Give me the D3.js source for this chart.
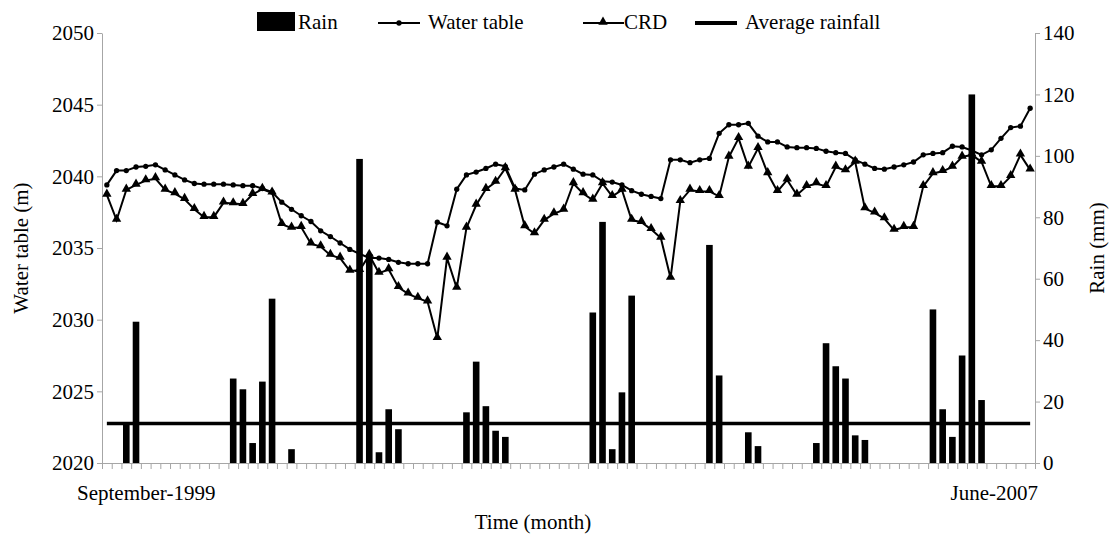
<!DOCTYPE html>
<html>
<head>
<meta charset="utf-8">
<script src="https://cdn.jsdelivr.net/npm/d3@7"></script>
<style>
  body { margin: 0; background: #fff; }
  svg { display: block; font-family: "Liberation Serif", "Times New Roman", serif; }
  .axis path, .axis line { stroke: #a6a6a6; }
  .axis text { fill: #000; font-size: 21px; font-family: "Liberation Serif", "Times New Roman", serif; }
</style>
</head>
<body>
<div id="chart"></div>
<script>
// months counted from September-1999
var months = d3.range(1, 97);
var endLabels = ["September-1999", "June-2007"];
var leftTicks = [2020, 2025, 2030, 2035, 2040, 2045, 2050];
var rightTicks = [0, 20, 40, 60, 80, 100, 120, 140];

var waterTable = [
  2039.4, 2040.4, 2040.4, 2040.65, 2040.7, 2040.8, 2040.45, 2040.1, 2039.75, 2039.5,
  2039.45, 2039.45, 2039.45, 2039.4, 2039.35, 2039.35, 2039.15, 2038.9, 2038.2, 2037.7,
  2037.25, 2036.85, 2036.2, 2035.8, 2035.35, 2034.9, 2034.6, 2034.3, 2034.3, 2034.2,
  2034.0, 2033.9, 2033.9, 2033.9, 2036.8, 2036.55, 2039.1, 2040.1, 2040.3, 2040.55,
  2040.85, 2040.7, 2039.15, 2039.05, 2040.15, 2040.45, 2040.65, 2040.85, 2040.5, 2040.15,
  2040.1, 2039.65, 2039.6, 2039.4, 2039.0, 2038.75, 2038.6, 2038.45, 2041.15, 2041.15,
  2040.95, 2041.15, 2041.25, 2043.0, 2043.6, 2043.6, 2043.7, 2042.8, 2042.4, 2042.4,
  2042.05, 2042.0, 2042.0, 2041.95, 2041.75, 2041.65, 2041.6, 2041.15, 2040.85, 2040.55,
  2040.5, 2040.65, 2040.8, 2041.0, 2041.5, 2041.6, 2041.65, 2042.1, 2042.05, 2041.8,
  2041.5, 2041.85, 2042.65, 2043.4, 2043.5, 2044.75
];

var crd = [
  2038.7, 2036.95, 2039.05, 2039.4, 2039.7, 2039.85, 2039.05, 2038.8, 2038.4, 2037.7,
  2037.15, 2037.15, 2038.15, 2038.1, 2038.05, 2038.75, 2039.1, 2038.85, 2036.65, 2036.4,
  2036.45, 2035.3, 2035.1, 2034.5, 2034.3, 2033.4, 2033.45, 2034.5, 2033.25, 2033.5,
  2032.25, 2031.8, 2031.5, 2031.25, 2028.7, 2034.3, 2032.2, 2036.4, 2038.0, 2039.1,
  2039.6, 2040.55, 2039.05, 2036.5, 2036.0, 2036.95, 2037.4, 2037.65, 2039.5, 2038.8,
  2038.35, 2039.5, 2038.6, 2039.05, 2036.95, 2036.8, 2036.3, 2035.7, 2032.9, 2038.25,
  2039.05, 2038.95, 2038.95, 2038.6, 2041.35, 2042.65, 2040.65, 2041.95, 2040.2, 2038.95,
  2039.75, 2038.7, 2039.3, 2039.5, 2039.3, 2040.65, 2040.4, 2041.0, 2037.75, 2037.45,
  2037.05, 2036.25, 2036.45, 2036.45, 2039.3, 2040.2, 2040.35, 2040.65, 2041.35, 2041.5,
  2041.0, 2039.3, 2039.3, 2040.0, 2041.5, 2040.45
];

var rain = [
  0, 0, 12.5, 46, 0, 0, 0, 0, 0, 0,
  0, 0, 0, 27.5, 24, 6.5, 26.5, 53.5, 0, 4.5,
  0, 0, 0, 0, 0, 0, 99, 68, 3.5, 17.5,
  11, 0, 0, 0, 0, 0, 0, 16.5, 33, 18.5,
  10.5, 8.5, 0, 0, 0, 0, 0, 0, 0, 0,
  49, 78.5, 4.5, 23, 54.5, 0, 0, 0, 0, 0,
  0, 0, 71, 28.5, 0, 0, 10, 5.5, 0, 0,
  0, 0, 0, 6.5, 39, 31.5, 27.5, 9, 7.5, 0,
  0, 0, 0, 0, 0, 50, 17.5, 8.5, 35, 120,
  20.5, 0, 0, 0, 0, 0
];

var averageRainfall = 12.9;

var margin = { top: 33, right: 77, bottom: 72, left: 102 };
var width = 1112;
var height = 535;
var innerWidth = width - margin.left - margin.right;
var innerHeight = height - margin.top - margin.bottom;

var svg = d3.select("#chart").append("svg")
  .attr("width", width)
  .attr("height", height);

var g = svg.append("g")
  .attr("transform", "translate(" + margin.left + "," + margin.top + ")");

var xBar = d3.scaleBand().domain(months).range([0, innerWidth]).paddingInner(0.32).paddingOuter(0.16);
var xCenter = d3.scaleBand().domain(months).range([0, innerWidth]);
var xEdges = d3.scaleLinear().domain([0, months.length]).range([0, innerWidth]);
var yLeft = d3.scaleLinear().domain([2020, 2050]).range([innerHeight, 0]);
var yRight = d3.scaleLinear().domain([0, 140]).range([innerHeight, 0]);

// x position of a point (centre of its month)
function X(d, i) {
  return xCenter(months[i]) + xCenter.bandwidth() / 2;
}

// axes
var xAxis = g.append("g").attr("class", "x axis")
  .attr("transform", "translate(0," + innerHeight + ")")
  .call(d3.axisBottom(xEdges).tickValues(d3.range(months.length + 1)).tickFormat("").tickSize(6).tickSizeOuter(0));
xAxis.selectAll("text").remove();

g.append("g").attr("class", "y axis")
  .call(d3.axisLeft(yLeft).tickValues(leftTicks).tickFormat(d3.format("d")).tickSize(5).tickSizeOuter(0).tickPadding(3));

g.append("g").attr("class", "y2 axis")
  .attr("transform", "translate(" + innerWidth + ",0)")
  .call(d3.axisRight(yRight).tickValues(rightTicks).tickSize(5).tickSizeOuter(0).tickPadding(3));

// rain bars
var rainData = rain.map(function(v, i) { return { month: months[i], value: v }; })
  .filter(function(d) { return d.value > 0; });

g.selectAll(".bar")
  .data(rainData)
  .enter().append("rect")
  .attr("class", "bar")
  .attr("x", function(d) { return xBar(d.month); })
  .attr("y", function(d) { return yRight(d.value); })
  .attr("width", xBar.bandwidth())
  .attr("height", function(d) { return innerHeight - yRight(d.value); })
  .attr("fill", "#000");

// average rainfall
g.append("line")
  .attr("x1", X(null, 0))
  .attr("x2", X(null, months.length - 1))
  .attr("y1", yRight(averageRainfall))
  .attr("y2", yRight(averageRainfall))
  .attr("stroke", "#000")
  .attr("stroke-width", 3.5);

var lineLeft = d3.line()
  .x(function(d, i) { return X(d, i); })
  .y(function(d) { return yLeft(d); });

g.append("path").datum(waterTable)
  .attr("d", lineLeft).attr("fill", "none").attr("stroke", "#000").attr("stroke-width", 2);

g.append("path").datum(crd)
  .attr("d", lineLeft).attr("fill", "none").attr("stroke", "#000").attr("stroke-width", 2);

var circle = d3.symbol().type(d3.symbolCircle).size(22);
var tri = d3.symbol().type(d3.symbolTriangle).size(38);

g.selectAll(".wt").data(waterTable).enter().append("path")
  .attr("class", "wt")
  .attr("d", circle)
  .attr("transform", function(d, i) { return "translate(" + X(d, i) + "," + yLeft(d) + ")"; })
  .attr("fill", "#000");

g.selectAll(".crd").data(crd).enter().append("path")
  .attr("class", "crd")
  .attr("d", tri)
  .attr("transform", function(d, i) { return "translate(" + X(d, i) + "," + (yLeft(d) - 1) + ")"; })
  .attr("fill", "#000");

// axis labels
svg.append("text")
  .attr("x", 77).attr("y", 500)
  .attr("font-size", 21)
  .text(endLabels[0]);

svg.append("text")
  .attr("x", margin.left + innerWidth + 3).attr("y", 500)
  .attr("text-anchor", "end")
  .attr("font-size", 21)
  .text(endLabels[1]);

svg.append("text")
  .attr("x", 533).attr("y", 529)
  .attr("text-anchor", "middle")
  .attr("font-size", 21)
  .text("Time (month)");

svg.append("text")
  .attr("transform", "translate(28," + (margin.top + innerHeight / 2) + ") rotate(-90)")
  .attr("text-anchor", "middle")
  .attr("font-size", 21)
  .text("Water table (m)");

svg.append("text")
  .attr("transform", "translate(1104," + (margin.top + innerHeight / 2) + ") rotate(-90)")
  .attr("text-anchor", "middle")
  .attr("font-size", 21)
  .text("Rain (mm)");

// legend
var legend = svg.append("g").attr("font-size", 21);
legend.append("rect").attr("x", 257).attr("y", 12).attr("width", 38).attr("height", 19).attr("fill", "#000");
legend.append("text").attr("x", 298).attr("y", 29).text("Rain");

legend.append("line").attr("x1", 378).attr("x2", 420).attr("y1", 23).attr("y2", 23).attr("stroke", "#000").attr("stroke-width", 2);
legend.append("path").attr("d", circle).attr("transform", "translate(399,23)");
legend.append("text").attr("x", 428).attr("y", 29).text("Water table");

legend.append("line").attr("x1", 583).attr("x2", 624).attr("y1", 23).attr("y2", 23).attr("stroke", "#000").attr("stroke-width", 2);
legend.append("path").attr("d", tri).attr("transform", "translate(603,22)");
legend.append("text").attr("x", 624).attr("y", 29).text("CRD");

legend.append("line").attr("x1", 695).attr("x2", 737).attr("y1", 23).attr("y2", 23).attr("stroke", "#000").attr("stroke-width", 4);
legend.append("text").attr("x", 745).attr("y", 29).text("Average rainfall");
</script>
</body>
</html>
